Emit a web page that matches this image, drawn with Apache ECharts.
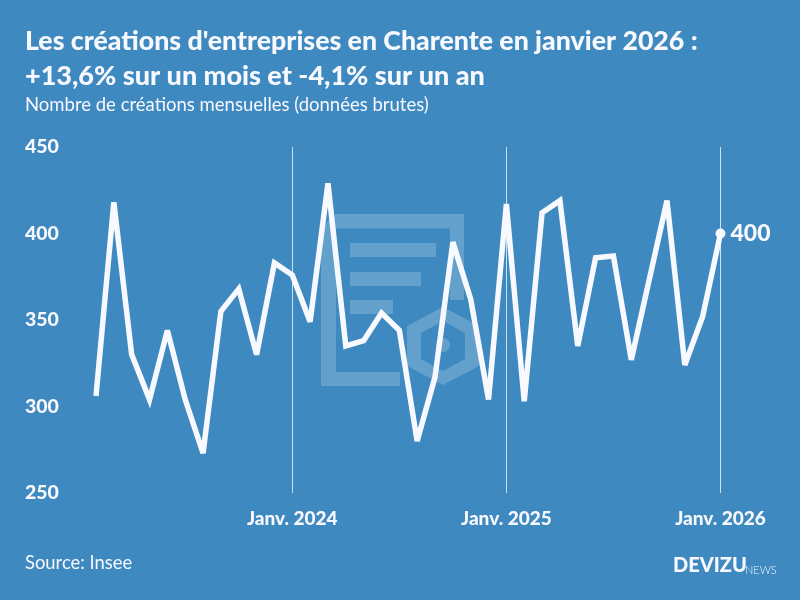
<!DOCTYPE html>
<html><head><meta charset="utf-8">
<style>html,body{margin:0;padding:0;background:#3d89c0}#c{width:800px;height:600px}</style>
<script src="https://cdn.jsdelivr.net/npm/echarts@6/dist/echarts.min.js"></script>
</head><body><div id="c"></div>
<script>
const months = ['Févr. 2023','Mars 2023','Avr. 2023','Mai 2023','Juin 2023','Juil. 2023','Août 2023','Sept. 2023','Oct. 2023','Nov. 2023','Déc. 2023','Janv. 2024',
 'Févr. 2024','Mars 2024','Avr. 2024','Mai 2024','Juin 2024','Juil. 2024','Août 2024','Sept. 2024','Oct. 2024','Nov. 2024','Déc. 2024','Janv. 2025',
 'Févr. 2025','Mars 2025','Avr. 2025','Mai 2025','Juin 2025','Juil. 2025','Août 2025','Sept. 2025','Oct. 2025','Nov. 2025','Déc. 2025','Janv. 2026'];
const creations = [306,418,330,304,344,304,273,355,368,330,383,376,
 349,429,335,338,354,344,280,317,395,362,304,417,
 303,412,419,335,386,387,327,373,419,324,352,400];
const yTicks = {min:250,max:450,interval:50};
const FF = 'Lato';
const W = '#f8f8ff';
const wm = 'rgba(255,255,255,0.2)';
const isJan = (i,v)=>v.startsWith('Janv.');
const chart = echarts.init(document.getElementById('c'),null,{renderer:'canvas'});
const bars=[[350,243,86,14],[350,272,71,14],[350,300,43,14]];
chart.setOption({
 animation:false,
 backgroundColor:'#3d89c0',
 textStyle:{fontFamily:FF},
 title:[
  {text:"Les créations d'entreprises en Charente en janvier 2026 :",left:25,top:28,padding:0,textStyle:{color:W,fontFamily:FF,fontWeight:900,fontSize:26.7}},
  {text:"+13,6% sur un mois et -4,1% sur un an",left:25,top:63,padding:0,textStyle:{color:W,fontFamily:FF,fontWeight:900,fontSize:27}},
  {text:"Nombre de créations mensuelles (données brutes)",left:25,top:96,padding:0,textStyle:{color:W,fontFamily:FF,fontWeight:'normal',fontSize:18.5}},
  {text:"Source: Insee",left:25,top:554,padding:0,textStyle:{color:W,fontFamily:FF,fontWeight:'normal',fontSize:18.4}}
 ],
 graphic:[
  {type:'polygon',silent:true,z:0,shape:{points:[[335,214],[464,214],[464,300],[450,300],[450,228.5],[336,228.5],[336,372],[400,372],[400,386],[321,386],[321,228]]},style:{fill:wm}},
  ...bars.map(b=>({type:'rect',silent:true,z:0,shape:{x:b[0],y:b[1],width:b[2],height:b[3]},style:{fill:wm}})),
  {type:'polygon',silent:true,z:0,shape:{points:[[443,307],[479,326],[479,366],[443,385],[407,366],[407,326],[443,307],[443,321],[421,333],[421,359],[443,371],[465,359],[465,333],[443,321]]},style:{fill:wm}},
  {type:'circle',silent:true,z:0,shape:{cx:443,cy:345,r:7},style:{fill:wm}},
  {type:'text',silent:true,z:5,left:673,top:556,style:{text:'DEVIZU',fill:W,font:'900 20px '+FF}},
  {type:'text',silent:true,z:5,left:745,top:565,style:{text:'NEWS',fill:W,font:'300 11px '+FF}}
 ],
 grid:{left:96,right:79.5,top:147,bottom:107,containLabel:false},
 xAxis:{type:'category',data:months,boundaryGap:false,
  axisLine:{show:false},axisTick:{show:false},
  axisLabel:{interval:isJan,color:W,fontFamily:FF,fontWeight:900,fontSize:19,margin:16,showMaxLabel:true},
  splitLine:{show:true,interval:isJan,lineStyle:{color:'rgba(255,255,255,0.75)',width:1}}},
 yAxis:{type:'value',min:yTicks.min,max:yTicks.max,interval:yTicks.interval,
  axisLine:{show:false},axisTick:{show:false},splitLine:{show:false},
  axisLabel:{color:W,fontFamily:FF,fontWeight:900,fontSize:19.5,align:'left',margin:71,verticalAlign:'middle',padding:[2,0,0,0]}},
 series:[{type:'line',z:3,symbol:'none',showSymbol:true,showAllSymbol:true,
  lineStyle:{color:W,width:5.5,join:'miter',miterLimit:4,cap:'butt'},
  data:creations.map((v,i)=>i===creations.length-1?{value:v,symbol:'circle',symbolSize:10,itemStyle:{color:W},
    label:{show:true,position:'right',distance:5,color:W,fontFamily:FF,fontWeight:900,fontSize:23,formatter:'{c}'}}:v)}]
});
</script></body></html>
